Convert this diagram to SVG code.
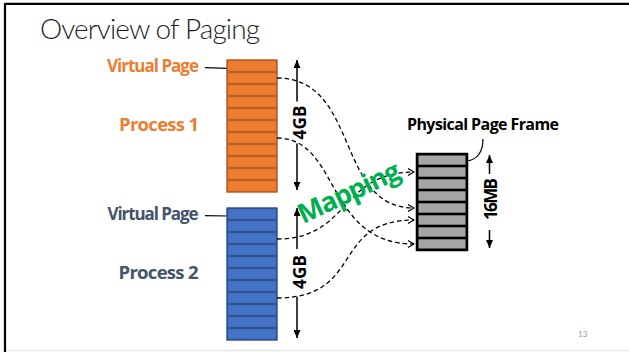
<svg xmlns="http://www.w3.org/2000/svg" width="629" height="352" viewBox="0 0 629 352">
  <style>
    text { font-family: "Open Sans", Lato, "Liberation Sans", sans-serif; font-weight: 700; }
    .title { font-family: Lato, "Open Sans", sans-serif; font-size: 28px; font-weight: 300; fill: #1f1f1f; }
    .lbl { font-size: 17px; }
    .proc { font-size: 18.5px; }
    .orange { fill: #ED7D31; }
    .slate { fill: #44546A; }
    .dim { font-size: 17px; fill: #000; }
    .phys { font-size: 16px; fill: #000; }
    .mapword { font-size: 27px; fill: #00B050; }
    .pnum { font-family: Lato, sans-serif; font-weight: 400; font-size: 8px; fill: #9a9a9a; }
    .map { stroke: #000; stroke-width: 1.3; stroke-dasharray: 4.5 3; fill: none; marker-end: url(#open); }
    .lead { stroke: #000; stroke-width: 1.2; fill: none; }
    .dimline { stroke: #000; stroke-width: 1.5; marker-end: url(#solid); }
    .cell-o { fill: #ED7D31; stroke: #B85F24; stroke-width: 1.2; }
    .cell-b { fill: #4472C4; stroke: #2F528F; stroke-width: 1.2; }
    .cell-g { fill: #A6A6A6; stroke: #000; stroke-width: 1.6; }
  </style>
  <defs>
    <marker id="open" viewBox="0 0 7 8" refX="6.5" refY="4" markerWidth="7" markerHeight="8" markerUnits="userSpaceOnUse" orient="auto">
      <path d="M0.5,0.5 L6.5,4 L0.5,7.5" fill="none" stroke="#000" stroke-width="1.2"/>
    </marker>
    <marker id="solid" viewBox="0 0 8 7" refX="8" refY="3.5" markerWidth="8" markerHeight="7" markerUnits="userSpaceOnUse" orient="auto">
      <path d="M0,0 L8,3.5 L0,7 Z" fill="#000"/>
    </marker>
    <g id="row-o"><rect x="227.5" y="0.5" width="49" height="11" class="cell-o"/></g>
    <g id="row-b"><rect x="227.5" y="0.5" width="49" height="11" class="cell-b"/></g>
    <g id="row-g"><rect x="417.5" y="0.5" width="49" height="11" class="cell-g"/></g>
  </defs>

  <!-- slide frame -->
  <rect width="629" height="352" fill="#fff"/>
  <line x1="5" y1="3.8" x2="629" y2="3.8" stroke="#000" stroke-width="2.3"/>
  <line x1="5" y1="3" x2="5" y2="352" stroke="#000" stroke-width="2.2"/>
  <line x1="6" y1="350.5" x2="629" y2="350.5" stroke="#e6e6e6" stroke-width="1.5"/>

  <text class="title" x="40" y="38.5" textLength="220">Overview of Paging</text>

  <!-- process 1 address space -->
  <g id="process1">
    <text class="lbl orange" x="199" y="72" text-anchor="end" textLength="92">Virtual Page</text>
    <line class="lead" x1="205" y1="67.7" x2="227" y2="68.3"/>
    <text class="proc orange" x="199" y="131" text-anchor="end" textLength="80">Process 1</text>
    <use href="#row-o" y="60"/><use href="#row-o" y="72"/><use href="#row-o" y="84"/>
    <use href="#row-o" y="96"/><use href="#row-o" y="108"/><use href="#row-o" y="120"/>
    <use href="#row-o" y="132"/><use href="#row-o" y="144"/><use href="#row-o" y="156"/>
    <use href="#row-o" y="168"/><use href="#row-o" y="180"/>
    <rect x="227" y="60" width="50" height="132" fill="none" stroke="#B85F24" stroke-width="1.4"/>
    <line class="dimline" x1="297" y1="101.5" x2="297" y2="60"/>
    <line class="dimline" x1="297" y1="143.5" x2="297" y2="190"/>
    <text class="dim" transform="translate(305.5,122.5) rotate(-90)" text-anchor="middle" textLength="34">4GB</text>
  </g>

  <!-- process 2 address space -->
  <g id="process2">
    <text class="lbl slate" x="198.5" y="219.5" text-anchor="end" textLength="91">Virtual Page</text>
    <line class="lead" x1="205" y1="215.7" x2="227" y2="216"/>
    <text class="proc slate" x="198.5" y="278.5" text-anchor="end" textLength="80">Process 2</text>
    <use href="#row-b" y="208"/><use href="#row-b" y="220"/><use href="#row-b" y="232"/>
    <use href="#row-b" y="244"/><use href="#row-b" y="256"/><use href="#row-b" y="268"/>
    <use href="#row-b" y="280"/><use href="#row-b" y="292"/><use href="#row-b" y="304"/>
    <use href="#row-b" y="316"/><use href="#row-b" y="328"/>
    <rect x="227" y="208" width="50" height="132" fill="none" stroke="#2F528F" stroke-width="1.4"/>
    <line class="dimline" x1="297" y1="249" x2="297" y2="208"/>
    <line class="dimline" x1="297" y1="297" x2="297" y2="338"/>
    <text class="dim" transform="translate(306,272) rotate(-90)" text-anchor="middle" textLength="34">4GB</text>
  </g>

  <!-- physical memory -->
  <g id="physical">
    <text class="phys" x="407" y="129.5" textLength="152">Physical Page Frame</text>
    <path class="lead" d="M483,139 C483,152 477,160 467,161"/>
    <use href="#row-g" y="154"/><use href="#row-g" y="166"/><use href="#row-g" y="178"/>
    <use href="#row-g" y="190"/><use href="#row-g" y="202"/><use href="#row-g" y="214"/>
    <use href="#row-g" y="226"/><use href="#row-g" y="238"/>
    <rect x="417" y="154" width="50" height="96" fill="none" stroke="#000" stroke-width="2.5"/>
    <line class="dimline" x1="489.5" y1="174" x2="489.5" y2="155"/>
    <line class="dimline" x1="489.5" y1="230" x2="489.5" y2="248"/>
    <text class="dim" transform="translate(496.5,199) rotate(-90)" text-anchor="middle" textLength="42">16MB</text>
  </g>

  <!-- page mappings -->
  <g id="mappings">
    <path class="map" d="M277,78 C360,78 335,208 414,208"/>
    <path class="map" d="M277,138 C340,138 325,244 414,244"/>
    <path class="map" d="M277,239 C350,239 340,172 414,172"/>
    <path class="map" d="M277,298 C365,298 330,220 414,220"/>
    <text class="mapword" transform="translate(303,224) rotate(-25)" textLength="110">Mapping</text>
  </g>

  <text class="pnum" x="578" y="337">13</text>
</svg>
